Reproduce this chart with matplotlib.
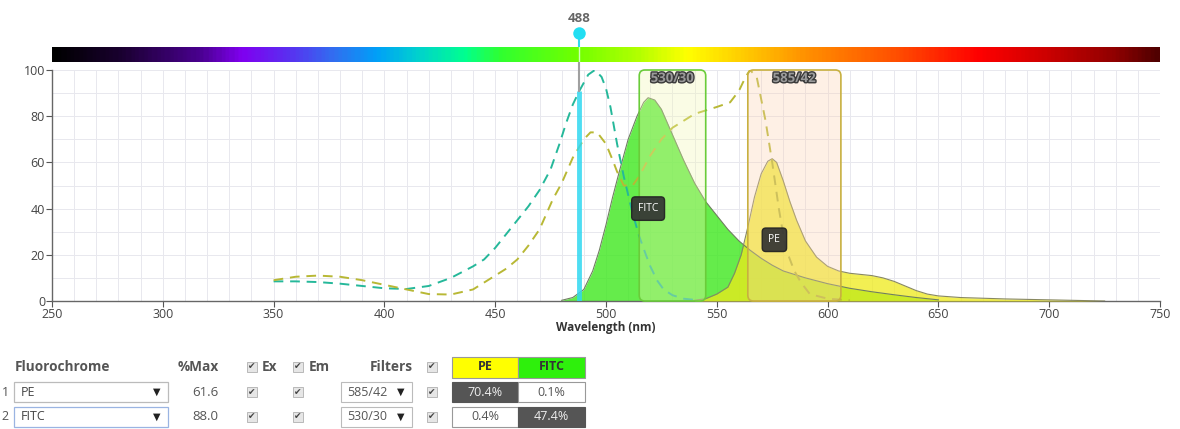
import matplotlib
matplotlib.use("Agg")
import matplotlib.pyplot as plt
import matplotlib.patheffects as pe
from matplotlib.patches import Rectangle, FancyBboxPatch
from matplotlib.colors import LinearSegmentedColormap
import numpy as np

plt.rcParams['font.family'] = ['Open Sans', 'DejaVu Sans']

# ---------------- data ----------------
fitc_ex_wl = [350, 360, 370, 380, 390, 400, 410, 420, 430, 440, 445, 450, 455, 460, 465, 470, 475,
              479, 482, 485, 488, 492, 495, 498, 500, 502, 505, 508, 510, 512, 515, 518, 520,
              523, 526, 530, 535, 540]
fitc_ex = [8.5, 8.5, 8.2, 7.5, 6.5, 5.5, 5.2, 6.5, 10, 15, 18, 23, 29, 35, 41, 48, 57,
           68, 77, 85, 91, 98, 100, 97, 92, 84, 68, 54, 46, 38, 28, 20, 15,
           9, 5, 2.5, 1, 0.5]

pe_ex_wl = [350, 360, 370, 380, 390, 400, 410, 420, 430, 440, 445, 450, 455, 460, 465, 470, 476,
            480, 485, 490, 493, 496, 500, 503, 505, 508, 512, 515, 520, 525, 530, 540, 550, 556,
            560, 563, 565, 568, 572, 575, 578, 581, 585, 588, 592, 600, 610]
pe_ex = [9, 10.5, 11, 10.5, 9, 7, 5, 3, 2.8, 5, 8, 11, 14, 18, 24, 31, 44,
         51, 62, 70, 73, 73, 68, 61, 56, 50, 50, 54, 63, 70, 75, 81, 84, 86,
         91, 97, 100, 97, 78, 60, 40, 23, 13, 8, 3, 1, 0.3]

fitc_em_wl = [480, 485, 490, 494, 497, 500, 503, 506, 510, 514, 517, 519, 522, 525, 530, 535, 540,
              545, 550, 555, 560, 565, 570, 575, 580, 590, 600, 610, 620, 630, 640, 650]
fitc_em = [0.3, 1.5, 5, 13, 22, 33, 45, 56, 70, 80, 86, 88, 87, 83, 72, 61, 51,
           43, 37, 31, 26, 22, 18.5, 15.5, 13, 10, 7.5, 5.5, 4, 2.7, 1.5, 0.5]

pe_em_wl = [540, 545, 550, 555, 558, 561, 564, 567, 570, 573, 575, 577, 580, 583, 586, 590, 595,
            600, 605, 610, 615, 620, 625, 630, 635, 640, 645, 650, 660, 670, 680, 690, 700, 710,
            720, 725]
pe_em = [0.3, 1, 3, 6, 12, 20, 32, 45, 55, 60.5, 61.6, 60, 52, 43, 35, 26, 19,
         15, 13, 12, 11.5, 11, 10, 8.5, 6.5, 4.5, 3, 2.2, 1.5, 1.2, 0.9, 0.7, 0.5, 0.3,
         0.1, 0]

laser_nm = 488
laser_height = 91

fluorochromes = ['PE', 'FITC']
pct_max = [61.6, 88.0]
filters = ['585/42', '530/30']
spill = [[70.4, 0.1], [0.4, 47.4]]
label_pos = {'FITC': (519, 40), 'PE': (576, 26.5)}

# spectrum colour bar stops (nm, colour)
spec_nm = [250, 280, 316, 335, 356, 377, 396, 414, 436, 452, 486, 514, 537, 564, 591, 631, 669, 698, 731, 750]
spec_col = ['#000000', '#1a0030', '#4a0090', '#8000f0', '#5a30f0', '#3070f0', '#00a0f8', '#00d0d0',
            '#00ff90', '#30ff30', '#70ff00', '#b0ff00', '#ffff00', '#ffc800', '#ff9000', '#ff5000',
            '#ff0000', '#d00000', '#900000', '#500000']

# ---------------- figure ----------------
W, H = 1180, 429
fig = plt.figure(figsize=(W / 100, H / 100), dpi=100)

def fx(px):
    return px / W

def fy(py):
    return 1 - py / H

ax_l, ax_r, ax_t, ax_b = 52, 1160, 70, 301
ax = fig.add_axes([fx(ax_l), fy(ax_b), fx(ax_r) - fx(ax_l), fy(ax_t) - fy(ax_b)])
cax = fig.add_axes([fx(ax_l), fy(62), fx(ax_r) - fx(ax_l), fy(47) - fy(62)])

# colour bar
cmap = LinearSegmentedColormap.from_list(
    'spec', [((n - 250) / 500, c) for n, c in zip(spec_nm, spec_col)])
cax.imshow(np.linspace(0, 1, 600)[None, :], aspect='auto', cmap=cmap, extent=[250, 750, 0, 1])
cax.set_xlim(250, 750)
cax.axis('off')
cax.axvline(laser_nm, color='#e8ffe8', lw=1.0, alpha=0.8)

ax.set_xlim(250, 750)
ax.set_ylim(0, 100)

# grid
ax.set_xticks(np.arange(250, 751, 50))
ax.set_xticks(np.arange(250, 751, 10), minor=True)
ax.set_yticks(np.arange(0, 101, 20))
ax.set_yticks(np.arange(0, 101, 10), minor=True)
ax.grid(which='both', color='#e8e8ee', lw=0.7)
ax.set_axisbelow(True)
ax.tick_params(axis='both', which='minor', length=0)
ax.tick_params(axis='both', which='major', length=4, color='#555555', labelsize=9,
               labelcolor='#444444', pad=1)
for s in ['top', 'right']:
    ax.spines[s].set_visible(False)
for s in ['left', 'bottom']:
    ax.spines[s].set_color('#666666')
    ax.spines[s].set_linewidth(1.0)
ax.set_xlabel('Wavelength (nm)', fontsize=8.5, fontweight='bold', color='#333333', labelpad=0)

# emission fills
ax.fill_between(fitc_em_wl, fitc_em, 0, color='#3ee81e', alpha=0.8, lw=0, zorder=2)
ax.plot(fitc_em_wl, fitc_em, color='#6f7f60', lw=0.8, zorder=4)
ax.fill_between(pe_em_wl, pe_em, 0, color='#eeea1a', alpha=0.75, lw=0, zorder=3)
ax.plot(pe_em_wl, pe_em, color='#888860', lw=0.8, zorder=4)

# excitation dashed
ax.plot(fitc_ex_wl, fitc_ex, color='#25b89a', lw=1.4, ls=(0, (5, 3.5)), zorder=5)
ax.plot(pe_ex_wl, pe_ex, color='#b8b835', lw=1.4, ls=(0, (5, 3.5)), zorder=5)

# filter boxes (semi-transparent, over the spectra)
box_style = {'585/42': ('#fcd2b0', '#c8b040'), '530/30': ('#f2f8b0', '#6acc3a')}
for f in filters:
    c, w = [float(v) for v in f.split('/')]
    fc, ec = box_style[f]
    bx = FancyBboxPatch((c - w / 2, 0), w, 100, boxstyle='round,pad=0,rounding_size=2.5',
                        fc=fc, ec='none', alpha=0.32, zorder=6)
    ax.add_patch(bx)
    bx2 = FancyBboxPatch((c - w / 2, 0), w, 100, boxstyle='round,pad=0,rounding_size=2.5',
                         fc='none', ec=ec, lw=1.2, zorder=7, clip_on=False)
    ax.add_patch(bx2)
    ax.text(c, 96.3, f, ha='center', va='center', fontsize=9.5, fontweight='bold', color='#9a9a9a',
            zorder=8, path_effects=[pe.withStroke(linewidth=2, foreground='#3a3a3a')])

# laser line
ax.plot([laser_nm, laser_nm], [0, laser_height], color='#30d8f0', lw=3.5, alpha=0.85, zorder=9,
        solid_capstyle='butt')
ax.plot([laser_nm, laser_nm], [laser_height, 103.5], color='#a0a0a0', lw=1.5, zorder=9,
        clip_on=False)
ax.plot([laser_nm, laser_nm], [110, 116], color='#30d8f0', lw=1.5, zorder=9, clip_on=False)
ax.plot([laser_nm], [116], marker='o', ms=9, color='#22def2', mec='none', zorder=10, clip_on=False)
ax.text(laser_nm, 122.5, str(laser_nm), ha='center', va='center', fontsize=9.5, fontweight='bold',
        color='#666666')

# fluorochrome labels
for name, (lx, ly) in label_pos.items():
    ax.text(lx, ly, name, ha='center', va='center', fontsize=7.5, color='white', zorder=11,
            bbox=dict(boxstyle='round,pad=0.6,rounding_size=0.35', fc='#333333', ec='#222222',
                      alpha=0.92))

# ---------------- table ----------------
HEAD = '#555555'

def rect(x0, y0, x1, y1, fc='white', ec='#bbbbbb', lw=0.8):
    fig.add_artist(Rectangle((fx(x0), fy(y1)), fx(x1) - fx(x0), fy(y0) - fy(y1),
                             transform=fig.transFigure, fc=fc, ec=ec, lw=lw))

def checkbox(xc, yc):
    rect(xc - 5, yc - 5, xc + 5, yc + 5, fc='#e6e6e6', ec='#b0b0b0', lw=0.6)
    fig.text(fx(xc), fy(yc), '✔', ha='center', va='center', fontsize=6.5, color='#444444',
             family='DejaVu Sans')

def txt(x, y, s, **kw):
    fig.text(fx(x), fy(y), s, va='center', **kw)

hy = 367
txt(15, hy, 'Fluorochrome', ha='left', fontsize=9.8, fontweight='bold', color=HEAD)
txt(178, hy, '%Max', ha='left', fontsize=9.8, fontweight='bold', color=HEAD)
checkbox(252, hy)
txt(262, hy, 'Ex', ha='left', fontsize=9.8, fontweight='bold', color=HEAD)
checkbox(298, hy)
txt(309, hy, 'Em', ha='left', fontsize=9.8, fontweight='bold', color=HEAD)
txt(413, hy, 'Filters', ha='right', fontsize=9.8, fontweight='bold', color=HEAD)
checkbox(432, hy)
head_cols = {'PE': '#ffff00', 'FITC': '#2ef00c'}
cx = [(452, 518), (518, 585)]
for j, name in enumerate(fluorochromes):
    x0, x1 = cx[j]
    rect(x0, 357, x1, 378, fc=head_cols[name], ec='#999999')
    txt((x0 + x1) / 2, hy, name, ha='center', fontsize=9, fontweight='bold', color='#333333')

row_y = [392, 417]
for i, name in enumerate(fluorochromes):
    y = row_y[i]
    txt(5, y, str(i + 1), ha='center', fontsize=9, color='#555555')
    rect(14, y - 10, 168, y + 10, ec='#bbbbbb' if i == 0 else '#9ab4e2', lw=0.9)
    txt(21, y, name, ha='left', fontsize=9, color='#444444')
    txt(157, y, '▼', ha='center', fontsize=7, color='#222222', family='DejaVu Sans')
    txt(205, y, f'{pct_max[i]:.1f}', ha='center', fontsize=9.5, color='#555555')
    checkbox(252, y)
    checkbox(298, y)
    rect(341, y - 10, 412, y + 10, ec='#bbbbbb')
    txt(347, y, filters[i], ha='left', fontsize=9, color='#555555')
    txt(401, y, '▼', ha='center', fontsize=7, color='#222222', family='DejaVu Sans')
    checkbox(432, y)
    for j in range(len(fluorochromes)):
        x0, x1 = cx[j]
        dark = (i == j)
        rect(x0, y - 10, x1, y + 10, fc='#555555' if dark else 'white',
             ec='#555555' if dark else '#999999')
        txt((x0 + x1) / 2, y, f'{spill[i][j]:.1f}%', ha='center', fontsize=9,
            color='#eeeeee' if dark else '#555555')

fig.savefig('out.png', dpi=100)
